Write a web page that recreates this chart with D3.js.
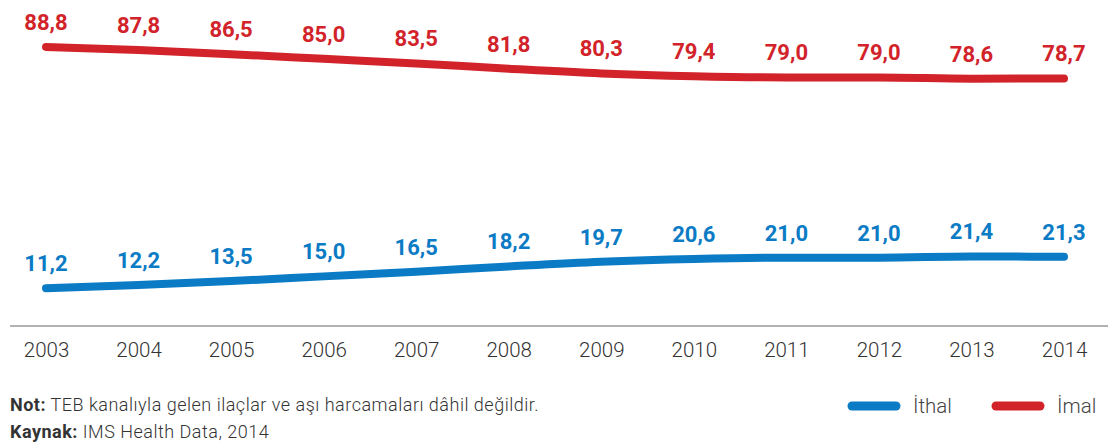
<!DOCTYPE html>
<html>
<head>
<meta charset="utf-8">
<script src="https://cdn.jsdelivr.net/npm/d3@7"></script>
<style>
  body { margin: 0; background: #fff; }
  svg { display: block; font-family: Roboto, sans-serif; }
</style>
</head>
<body>
<svg id="chart" width="1108" height="444"></svg>
<script>
// data
const years = ["2003", "2004", "2005", "2006", "2007", "2008", "2009", "2010", "2011", "2012", "2013", "2014"];
const imal = [88.8, 87.8, 86.5, 85.0, 83.5, 81.8, 80.3, 79.4, 79.0, 79.0, 78.6, 78.7];
const ithal = [11.2, 12.2, 13.5, 15.0, 16.5, 18.2, 19.7, 20.6, 21.0, 21.0, 21.4, 21.3];
const seriesNames = ["İthal", "İmal"];
const seriesColors = ["#0a7bc4", "#d2232a"];

const svg = d3.select("#chart");

const x = d3.scalePoint().domain(years).range([46, 1064]);
const y = d3.scaleLinear().domain([0, 88.8]).range([323, 47]);

// baseline axis
svg.append("line")
  .attr("x1", 10).attr("x2", 1108)
  .attr("y1", 326).attr("y2", 326)
  .attr("stroke", "#9a9a9a")
  .attr("stroke-width", 1.5);

const xAxis = svg.append("g")
  .attr("transform", "translate(0,326)")
  .call(d3.axisBottom(x).tickSize(0).tickPadding(16));
xAxis.select(".domain").remove();
xAxis.selectAll("text")
  .attr("font-family", "Roboto, sans-serif")
  .attr("font-size", 20.5)
  .attr("font-weight", 300)
  .attr("fill", "#333");

const line = d3.line()
  .x((d, i) => x(years[i]))
  .y((d) => y(d))
  .curve(d3.curveMonotoneX);

const series = [ithal, imal];

series.forEach((vals, si) => {
  const color = seriesColors[si];
  svg.append("path")
    .datum(vals)
    .attr("d", line)
    .attr("fill", "none")
    .attr("stroke", color)
    .attr("stroke-width", 8)
    .attr("stroke-linecap", "round")
    .attr("stroke-linejoin", "round");

  svg.append("g")
    .selectAll("text")
    .data(vals)
    .join("text")
    .attr("x", (d, i) => x(years[i]))
    .attr("y", (d) => y(d) - 17)
    .attr("text-anchor", "middle")
    .attr("font-size", 22)
    .attr("font-weight", 700)
    .attr("fill", color)
    .text((d) => d.toFixed(1).replace(".", ","));
});

// footnotes
const note = svg.append("text")
  .attr("x", 10).attr("y", 411)
  .attr("font-size", 18)
  .attr("letter-spacing", 0.5)
  .attr("fill", "#333");
note.append("tspan").attr("font-weight", 700).text("Not:");
note.append("tspan").attr("font-weight", 300).text(" TEB kanalıyla gelen ilaçlar ve aşı harcamaları dâhil değildir.");

const src = svg.append("text")
  .attr("x", 10).attr("y", 438)
  .attr("font-size", 18)
  .attr("letter-spacing", 0.5)
  .attr("fill", "#333");
src.append("tspan").attr("font-weight", 700).text("Kaynak:");
src.append("tspan").attr("font-weight", 300).text(" IMS Health Data, 2014");

// legend
const legend = svg.append("g")
  .selectAll("g")
  .data(seriesNames)
  .join("g")
  .attr("transform", (d, i) => `translate(${[852, 996][i]},406)`);
legend.append("line")
  .attr("x1", 0).attr("x2", 44)
  .attr("stroke", (d, i) => seriesColors[i])
  .attr("stroke-width", 9)
  .attr("stroke-linecap", "round");
legend.append("text")
  .attr("x", 61).attr("y", 7)
  .attr("font-size", 20.5)
  .attr("font-weight", 300)
  .attr("fill", "#444")
  .text((d) => d);
</script>
</body>
</html>
